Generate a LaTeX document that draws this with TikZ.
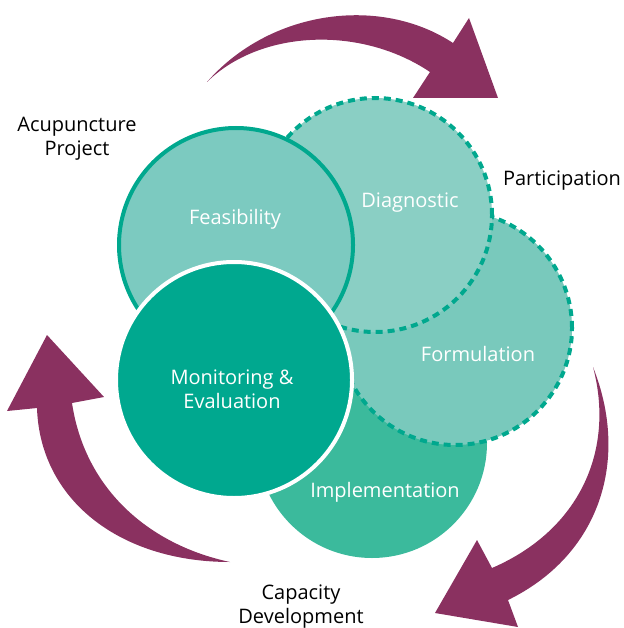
\documentclass[tikz,border=0pt]{standalone}
\usepackage{fontspec}
\setmainfont{Open Sans}
\definecolor{maroon}{HTML}{8A3160}
\definecolor{tealline}{HTML}{00A88E}
\definecolor{feasfill}{HTML}{7CCAC0}
\definecolor{diagfill}{HTML}{8ACFC4}
\definecolor{formfill}{HTML}{79C9BC}
\definecolor{implfill}{HTML}{3BBA9C}
\definecolor{monfill}{HTML}{00A88F}
\tikzset{
  phase/.style={circle, inner sep=0pt, minimum size=234pt},
  dashedphase/.style={phase, draw=tealline, line width=4pt, dash pattern=on 7pt off 5pt},
  inlabel/.style={text=white, font=\fontsize{20}{24}\selectfont, align=center},
  outlabel/.style={text=black, font=\fontsize{20}{24}\selectfont, align=center},
  bigarrow/.style={fill=maroon, draw=none}
}
\begin{document}
\begin{tikzpicture}[x=1pt,y=-1pt]
\useasboundingbox (0,0) rectangle (623,628);
% circles
\node[phase, fill=implfill, minimum size=230pt] (impl) at (372,443) {};
\node[dashedphase, fill=formfill] (form) at (455,328) {};
\node[dashedphase, fill=diagfill] (diag) at (375,215) {};
\node[phase, fill=feasfill, draw=tealline, line width=4pt] (feas) at (236,245) {};
\node[phase, fill=monfill, draw=white, line width=4pt, minimum size=236pt] (mon) at (234,380) {};
% circle labels
\node[inlabel] (lfeas) at (235,219) {Feasibility};
\node[inlabel] (ldiag) at (410,203) {Diagnostic};
\node[inlabel] (lform) at (478,354) {Formulation};
\node[inlabel] (limpl) at (385,492) {Implementation};
\node[inlabel] (lmon) at (232,389) {Monitoring \&\\Evaluation};
% outer labels
\node[outlabel] (lacu) at (77,139) {Acupuncture\\Project};
\node[outlabel] (lpart) at (562,181) {Participation};
\node[outlabel] (lcap) at (301,607) {Capacity\\Development};
% arrows
\path[bigarrow] (207,82) .. controls (270,10) and (380,-5) .. (453,43)
  -- (469,18) -- (498,98) -- (413,98) -- (430,72)
  .. controls (360,25) and (260,30) .. (207,82) -- cycle;
\path[bigarrow] (593,367) .. controls (630,460) and (600,555) .. (508,600)
  -- (518,627) -- (435,613) -- (477,540) -- (492,568)
  .. controls (580,530) and (615,450) .. (593,367) -- cycle;
\path[bigarrow] (230,562) .. controls (120,562) and (40,500) .. (37,408)
  -- (7,411) -- (47,335) -- (104,397) -- (72,403)
  .. controls (85,490) and (150,545) .. (230,562) -- cycle;
\end{tikzpicture}
\end{document}
